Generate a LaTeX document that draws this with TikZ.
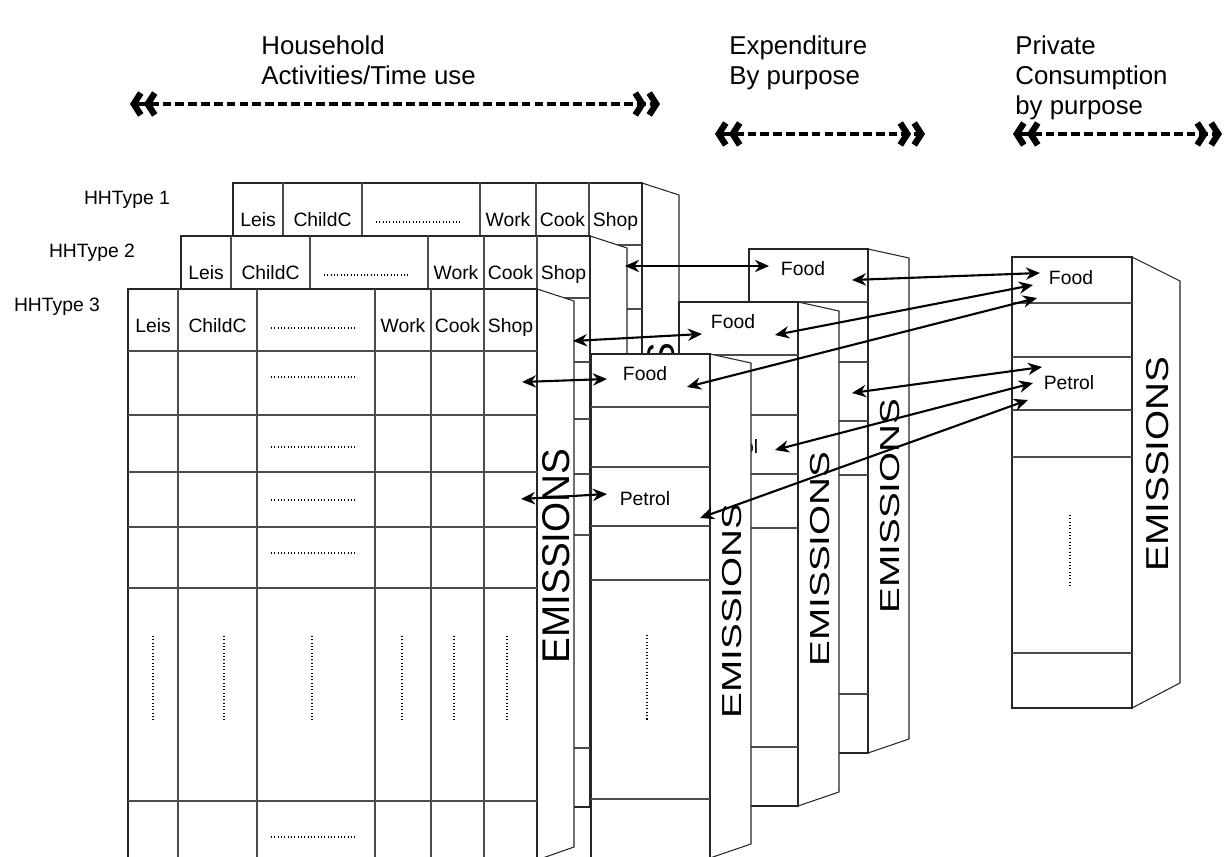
\documentclass[tikz,border=0pt]{standalone}
\usepackage{fontspec}
\setmainfont{Liberation Sans}
\usetikzlibrary{arrows.meta}

\tikzset{
  panel/.style={draw=black!85, fill=white, line width=0.6pt},
  grid/.style={draw=black!70, line width=0.6pt},
  dots/.style={dash pattern=on 0.6pt off 1.3pt, line width=0.6pt},
  cell/.style={anchor=base, inner sep=0pt, font=\fontsize{11}{13}\selectfont},
  emis/.style={rotate=90, inner sep=0pt, font=\fontsize{22}{24}\selectfont},
  title/.style={anchor=base west, inner sep=0pt, font=\fontsize{14.7}{17}\selectfont},
  span/.style={{Straight Barb[length=4pt,width=12.5pt,line width=3.6pt,sharp]Straight Barb[length=4pt,width=12.5pt,line width=3.6pt,sharp]}-{Straight Barb[length=4pt,width=12.5pt,line width=3.6pt,sharp]Straight Barb[length=4pt,width=12.5pt,line width=3.6pt,sharp]},
    line width=2.7pt, dash pattern=on 5pt off 2.3pt},
  link/.style={<->, >={Stealth[length=8pt,width=7pt]}, line width=1.2pt}
}

% household table: name, top left corner
\newcommand{\hhtable}[3]{%
  \begin{scope}[shift={(#2,#3)}]
    \filldraw[panel] (409,0) -- (446,12) -- (446,558) -- (409,571) -- cycle;
    \node[emis] (#1-emis) at (428,267) {EMISSIONS};
    \filldraw[panel] (0,0) rectangle (409,571);
    \foreach \r in {62,126,183,238,299,512}
      \draw[grid] (0,\r) -- (409,\r);
    \foreach \c in {50,129,247,303,356}
      \draw[grid] (\c,0) -- (\c,571);
    \foreach \lab/\xx in {Leis/25,ChildC/89.5,Work/275,Cook/329.5,Shop/382.5}
      \node[cell] (#1-\lab) at (\xx,44) {\lab};
    \foreach \r in {39,88,158,211,264,548}
      \draw[dots] (143,\r) -- (227,\r);
    \foreach \c in {25,96,184,274,326,379}
      \draw[dots] (\c,347) -- (\c,431);
  \end{scope}}

% expenditure column: name, top left corner
\newcommand{\spendbox}[3]{%
  \begin{scope}[shift={(#2,#3)}]
    \filldraw[panel] (119,0) -- (160,9) -- (160,490) -- (119,504) -- cycle;
    \node[emis] (#1-emis) at (141,257) {\scalebox{1}[0.71]{EMISSIONS}};
    \filldraw[panel] (0,0) rectangle (119,504);
    \foreach \r in {53,113,172,226,445}
      \draw[grid] (0,\r) -- (119,\r);
    \node[cell] (#1-food) at (54,27) {Food};
    \node[cell] (#1-petrol) at (54,152) {Petrol};
    \draw[dots] (56,281) -- (56,366);
  \end{scope}}

\begin{document}
\begin{tikzpicture}[x=0.02cm,y=-0.02cm]
\useasboundingbox (0,0) rectangle (1224,857);
\clip (0,0) rectangle (1224,857);

% headings
\node[title] (hh1) at (261,55) {Household};
\node[title] (hh2) at (261,85) {Activities/Time use};
\node[title] (ex1) at (729,55) {Expenditure};
\node[title] (ex2) at (729,85) {By purpose};
\node[title] (pc1) at (1015,55) {Private};
\node[title] (pc2) at (1015,85) {Consumption};
\node[title] (pc3) at (1015,115) {by purpose};

\coordinate (hhL) at (130,104);
\coordinate (hhR) at (660,104);
\coordinate (exL) at (715,134);
\coordinate (exR) at (925,134);
\coordinate (pcL) at (1013,134);
\coordinate (pcR) at (1222,134);
\draw[span] (hhL) -- (hhR);
\draw[span] (exL) -- (exR);
\draw[span] (pcL) -- (pcR);

% household tables, back to front
\hhtable{t1}{233}{183}
\hhtable{t2}{181}{236}
\hhtable{t3}{128}{289}
\node[cell] (ht1) at (127,205) {HHType 1};
\node[cell] (ht2) at (92,258) {HHType 2};
\node[cell] (ht3) at (57,312) {HHType 3};

% expenditure by purpose
\spendbox{e1}{749}{249}
\spendbox{e2}{679}{302}
\spendbox{e3}{591}{354}

% private consumption
\begin{scope}[shift={(1012,257)}]
  \filldraw[panel] (120,0) -- (168,24) -- (168,426) -- (120,451) -- cycle;
  \node[emis] (p-emis) at (146,207) {\scalebox{1}[0.82]{EMISSIONS}};
  \filldraw[panel] (0,0) rectangle (120,451);
  \foreach \r in {46,100,153,200,396}
    \draw[grid] (0,\r) -- (120,\r);
  \node[cell] (p-food) at (59,28) {Food};
  \node[cell] (p-petrol) at (57,133) {Petrol};
  \draw[dots] (58,258) -- (58,329);
\end{scope}

% links
\coordinate (t2s) at (625,266);   \coordinate (e1f) at (769,266);
\coordinate (t3s) at (573,341);   \coordinate (e2f) at (702,334);
\coordinate (t3f) at (522,382);   \coordinate (e3f) at (607,379);
\coordinate (t3p) at (521,499);   \coordinate (e3p) at (607,494);
\coordinate (e1fr) at (852,280);  \coordinate (pf1) at (1040,273);
\coordinate (e2fr) at (775,335);  \coordinate (pf2) at (1033,285);
\coordinate (e3fr) at (687,387);  \coordinate (pf3) at (1037,298);
\coordinate (e1pr) at (852,393);  \coordinate (pp1) at (1042,367);
\coordinate (e2pr) at (775,450);  \coordinate (pp2) at (1033,383);
\coordinate (e3pr) at (700,518);  \coordinate (pp3) at (1028,400);

\path[link] (t2s) edge (e1f);
\path[link] (t3s) edge (e2f);
\path[link] (t3f) edge (e3f);
\path[link] (t3p) edge (e3p);
\path[link] (e1fr) edge (pf1);
\path[link] (e2fr) edge (pf2);
\path[link] (e3fr) edge (pf3);
\path[link] (e1pr) edge (pp1);
\path[link] (e2pr) edge (pp2);
\path[link] (e3pr) edge (pp3);
\end{tikzpicture}
\end{document}
